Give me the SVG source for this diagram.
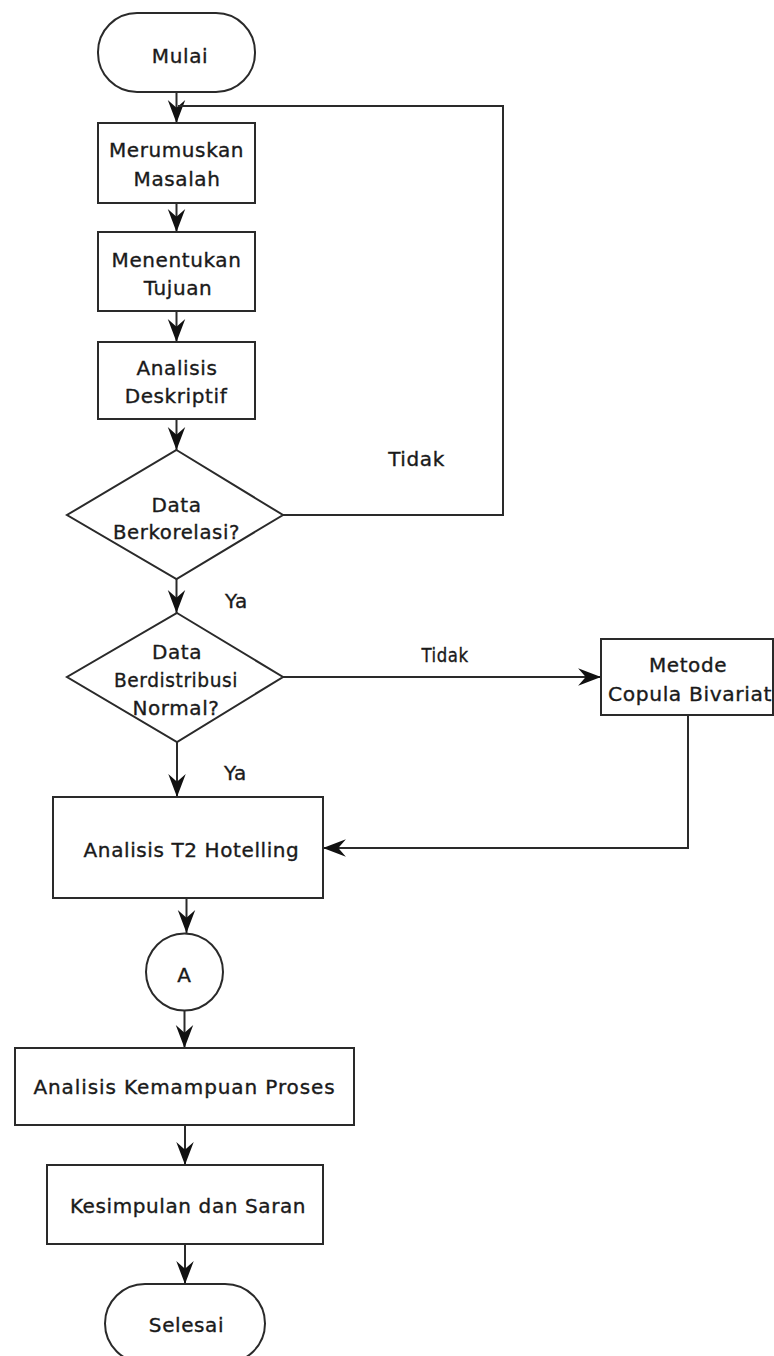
<svg xmlns="http://www.w3.org/2000/svg" width="774" height="1356" viewBox="0 0 774 1356">
<style>
.shape{fill:#fff;stroke:#2a2a2a;stroke-width:2}
.t{font-family:"DejaVu Sans","Liberation Sans",sans-serif;font-size:20px;letter-spacing:0.6px;fill:#1a1a1a;stroke:#1a1a1a;stroke-width:0.35;text-anchor:middle}
.c{fill:none;stroke:#2a2a2a;stroke-width:2}
</style>
<defs>
<marker id="arr" markerUnits="userSpaceOnUse" markerWidth="24" markerHeight="20" viewBox="-21 -9 22 18" refX="0" refY="0" orient="auto">
<path d="M0,0 L-21,-8 L-14,0 L-21,8 Z" fill="#111"/>
</marker>
</defs>
<rect width="774" height="1356" fill="#fff"/>
<g id="connectors">
<line class="c" x1="176.5" y1="92" x2="176.5" y2="123" marker-end="url(#arr)"/>
<polyline class="c" points="283,515 503,515 503,106 178,106"/>
<line class="c" x1="176.5" y1="203" x2="176.5" y2="232" marker-end="url(#arr)"/>
<line class="c" x1="176.5" y1="311" x2="176.5" y2="342" marker-end="url(#arr)"/>
<line class="c" x1="176.5" y1="419" x2="176.5" y2="450" marker-end="url(#arr)"/>
<line class="c" x1="176.5" y1="579" x2="176.5" y2="613" marker-end="url(#arr)"/>
<line class="c" x1="283" y1="677" x2="601" y2="677" marker-end="url(#arr)"/>
<line class="c" x1="177" y1="742" x2="177" y2="797" marker-end="url(#arr)"/>
<polyline class="c" points="688,715 688,848 323,848" marker-end="url(#arr)"/>
<line class="c" x1="186.5" y1="898" x2="186.5" y2="933" marker-end="url(#arr)"/>
<line class="c" x1="184.5" y1="1011" x2="184.5" y2="1048" marker-end="url(#arr)"/>
<line class="c" x1="185" y1="1125" x2="185" y2="1165" marker-end="url(#arr)"/>
<line class="c" x1="185" y1="1244" x2="185" y2="1284" marker-end="url(#arr)"/>
<text class="t" x="416.5" y="466">Tidak</text>
<text class="t" x="236.5" y="608">Ya</text>
<text class="t" x="445" y="662" textLength="47" lengthAdjust="spacingAndGlyphs">Tidak</text>
<text class="t" x="235.5" y="780">Ya</text>
</g>
<g id="mulai">
<rect class="shape" x="98" y="13" width="157" height="79" rx="39" ry="39"/>
<text class="t" x="180" y="62.5">Mulai</text>
</g>
<g id="merumuskan">
<rect class="shape" x="98" y="123" width="157" height="80"/>
<text class="t" x="176.5" y="157">Merumuskan</text>
<text class="t" x="177" y="186">Masalah</text>
</g>
<g id="menentukan">
<rect class="shape" x="98" y="232" width="157" height="79"/>
<text class="t" x="176.5" y="266.5">Menentukan</text>
<text class="t" x="178" y="295">Tujuan</text>
</g>
<g id="deskriptif">
<rect class="shape" x="98" y="342" width="157" height="77"/>
<text class="t" x="177" y="375">Analisis</text>
<text class="t" x="176" y="403">Deskriptif</text>
</g>
<g id="korelasi">
<polygon class="shape" points="176.5,450 283,515 176.5,579 67,515"/>
<text class="t" x="176.5" y="511.5">Data</text>
<text class="t" x="176.5" y="539" textLength="127" lengthAdjust="spacingAndGlyphs">Berkorelasi?</text>
</g>
<g id="normal">
<polygon class="shape" points="177,613 283,677 177,742 67,677"/>
<text class="t" x="177" y="659">Data</text>
<text class="t" x="176" y="687" textLength="124" lengthAdjust="spacingAndGlyphs">Berdistribusi</text>
<text class="t" x="176" y="715">Normal?</text>
</g>
<g id="copula">
<rect class="shape" x="601" y="639" width="172" height="76"/>
<text class="t" x="688" y="672">Metode</text>
<text class="t" x="690" y="701" textLength="164" lengthAdjust="spacingAndGlyphs">Copula Bivariat</text>
</g>
<g id="hotelling">
<rect class="shape" x="53" y="797" width="270" height="101"/>
<text class="t" x="191.5" y="857">Analisis T2 Hotelling</text>
</g>
<g id="connector-a">
<circle class="shape" cx="184.5" cy="972" r="38.5"/>
<text class="t" x="184.5" y="982">A</text>
</g>
<g id="kemampuan">
<rect class="shape" x="15" y="1048" width="339" height="77"/>
<text class="t" x="184.5" y="1094" style="letter-spacing:0.9px">Analisis Kemampuan Proses</text>
</g>
<g id="kesimpulan">
<rect class="shape" x="47" y="1165" width="276" height="79"/>
<text class="t" x="188" y="1213">Kesimpulan dan Saran</text>
</g>
<g id="selesai">
<rect class="shape" x="105" y="1284" width="160" height="79" rx="40" ry="39.5"/>
<text class="t" x="186.5" y="1332">Selesai</text>
</g>
</svg>
